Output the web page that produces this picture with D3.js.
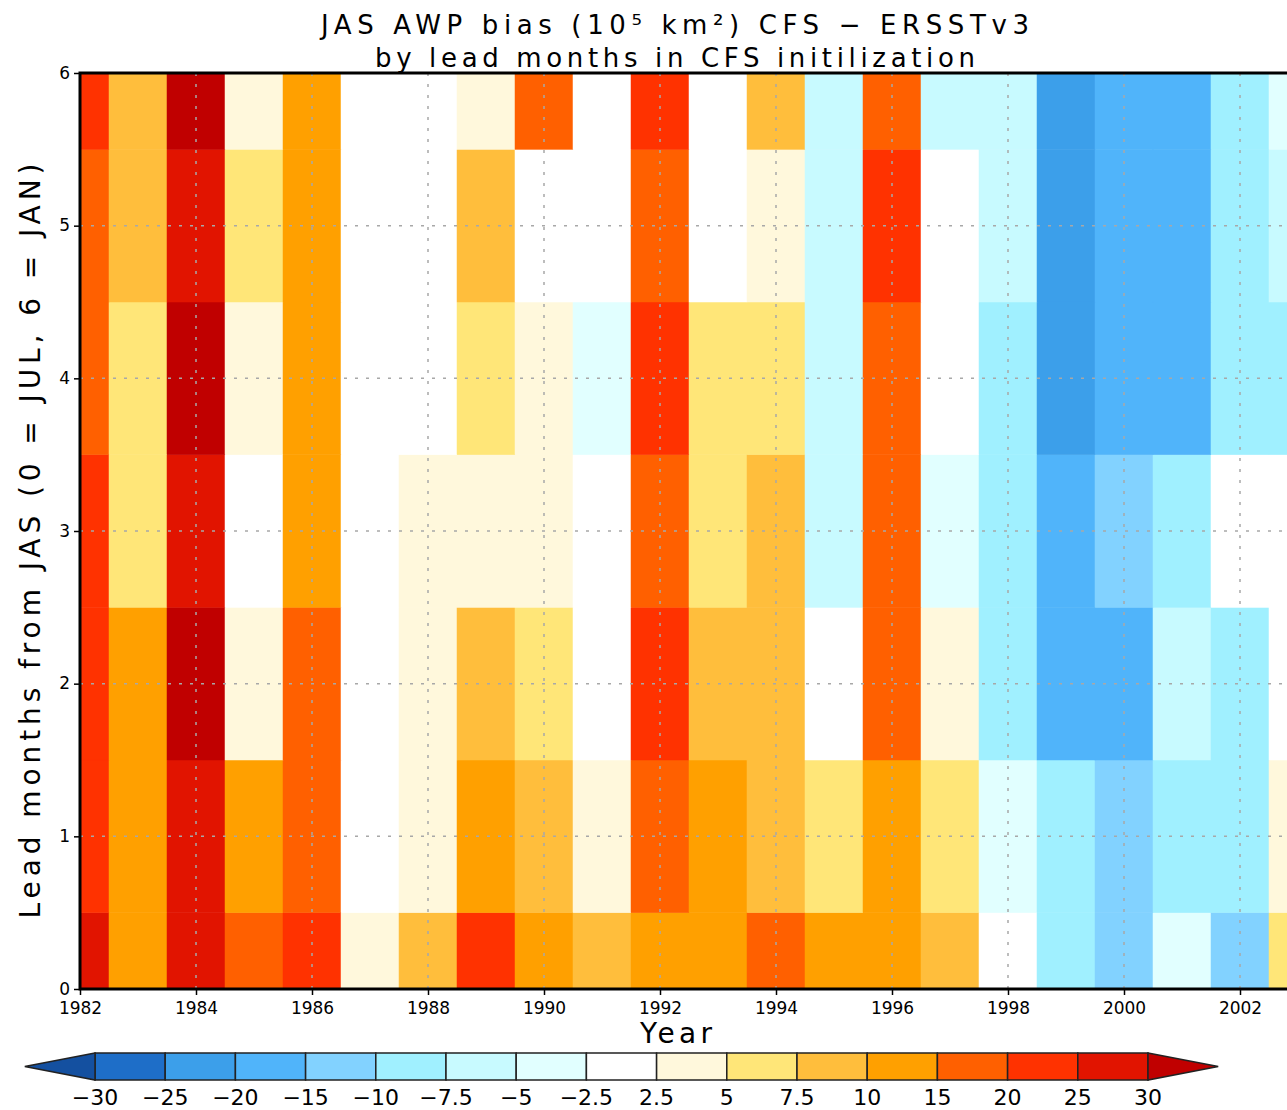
<!DOCTYPE html>
<html>
<head>
<meta charset="utf-8">
<script src="https://cdn.jsdelivr.net/npm/d3@7"></script>
<style>
  html, body { margin: 0; padding: 0; background: #fff; }
  svg { display: block; }
  text { font-family: "DejaVu Sans", "Liberation Sans", sans-serif; fill: #000; }
</style>
</head>
<body>
<svg id="chart" width="1287" height="1110"></svg>
<script>
// ---- data (years x lead months) ----
const years = d3.range(1982, 2004);
const leadMonths = [0, 1, 2, 3, 4, 5, 6];
const lead0 = [27, 12, 27, 17, 22, 3.5, 8.5, 22, 12, 8.5, 12, 12, 17, 12, 12, 8.5, 0, -8.7, -12, -3.5, -12, 6];
const lead1 = [22, 12, 27, 12, 17, 0, 3.5, 12, 8.5, 3.5, 17, 12, 8.5, 6, 12, 6, -3.5, -8.7, -12, -8.7, -8.7, 3.5];
const lead2 = [22, 12, 32, 3.5, 17, 0, 3.5, 8.5, 6, 0, 22, 8.5, 8.5, 0, 17, 3.5, -8.7, -17, -17, -6, -8.7, 0];
const lead3 = [22, 6, 27, 0, 12, 0, 3.5, 3.5, 3.5, 0, 17, 6, 8.5, -6, 17, -3.5, -8.7, -17, -12, -8.7, 0, 0];
const lead4 = [17, 6, 32, 3.5, 12, 0, 0, 6, 3.5, -3.5, 22, 6, 6, -6, 17, 0, -8.7, -22, -17, -17, -8.7, -8.7];
const lead5 = [17, 8.5, 27, 6, 12, 0, 0, 8.5, 0, 0, 17, 0, 3.5, -6, 22, 0, -6, -22, -17, -17, -8.7, -6];
const lead6 = [22, 8.5, 32, 3.5, 12, 0, 0, 3.5, 17, 0, 22, 0, 8.5, -6, 17, -6, -6, -22, -17, -17, -8.7, -3.5];
const leadRows = [lead0, lead1, lead2, lead3, lead4, lead5, lead6];

const levels = [-30, -25, -20, -15, -10, -7.5, -5, -2.5, 2.5, 5, 7.5, 10, 15, 20, 25, 30];
const levelLabels = ["−30", "−25", "−20", "−15", "−10", "−7.5", "−5", "−2.5", "2.5", "5", "7.5", "10", "15", "20", "25", "30"];
const colors = ["#1450a0", "#1e6ec8", "#3c9fea", "#50b4fa", "#82d2ff", "#a0f0ff", "#c8faff", "#e1ffff",
                "#ffffff", "#fff8dc", "#ffe678", "#ffbe3c", "#ffa000", "#ff6000", "#ff3200", "#e11400", "#c00000"];
const xTicks = d3.range(1982, 2004, 2);
const yTicks = [0, 1, 2, 3, 4, 5, 6];

(function () {
  const svg = d3.select("#chart");
  const pLeft = 80, pTop = 73, pBottom = 989;
  const x = d3.scaleLinear().domain([1982, 2004]).range([pLeft, pLeft + 22 * 58]);
  const y = d3.scaleLinear().domain([0, 6]).range([pBottom, pTop]);
  const color = d3.scaleThreshold().domain(levels).range(colors);

  const cells = [];
  leadRows.forEach((row, li) => row.forEach((v, yi) => cells.push({year: years[yi], lead: leadMonths[li], v})));

  svg.append("clipPath").attr("id", "plotclip")
    .append("rect").attr("x", x(1982)).attr("y", y(6)).attr("width", x(2004) - x(1982)).attr("height", y(0) - y(6));

  const plot = svg.append("g").attr("clip-path", "url(#plotclip)");
  plot.selectAll("rect.cell").data(cells).join("rect")
    .attr("class", "cell")
    .attr("x", d => x(Math.max(1982, d.year - 0.5)))
    .attr("width", d => x(d.year + 0.5) - x(Math.max(1982, d.year - 0.5)))
    .attr("y", d => y(Math.min(6, d.lead + 0.5)))
    .attr("height", d => y(Math.max(0, d.lead - 0.5)) - y(Math.min(6, d.lead + 0.5)))
    .attr("fill", d => color(d.v))
    .attr("stroke", d => color(d.v)).attr("stroke-width", 0.5);

  plot.selectAll("line.vg").data(xTicks.filter(t => t > 1982)).join("line")
    .attr("class", "vg")
    .attr("x1", d => x(d)).attr("x2", d => x(d)).attr("y1", y(0)).attr("y2", y(6))
    .attr("stroke", "#a8a8a8").attr("stroke-width", 1.5).attr("stroke-dasharray", "3,8");
  plot.selectAll("line.hg").data(yTicks.filter(t => t > 0 && t < 6)).join("line")
    .attr("class", "hg")
    .attr("x1", x(1982)).attr("x2", x(2004)).attr("y1", d => y(d)).attr("y2", d => y(d))
    .attr("stroke", "#a8a8a8").attr("stroke-width", 1.5).attr("stroke-dasharray", "3,8");

  const xAxis = d3.axisBottom(x).tickValues(xTicks).tickFormat(d3.format("d")).tickSize(6).tickPadding(7);
  const yAxis = d3.axisLeft(y).tickValues(yTicks).tickFormat(d3.format("d")).tickSize(6).tickPadding(4);
  const gx = svg.append("g").attr("transform", `translate(0,${pBottom})`).call(xAxis);
  const gy = svg.append("g").attr("transform", `translate(${pLeft},0)`).call(yAxis);
  [gx, gy].forEach(g => {
    g.select(".domain").remove();
    g.selectAll(".tick line").attr("stroke", "#000").attr("stroke-width", 1.5);
    g.selectAll(".tick text").attr("font-size", 17).attr("fill", "#000");
  });
  gy.selectAll(".tick text").attr("dy", "0.3em");

  svg.append("path")
    .attr("d", `M${x(2004)},${y(6)}H${x(1982)}V${y(0)}H${x(2004)}`)
    .attr("fill", "none").attr("stroke", "#000").attr("stroke-width", 3);

  svg.append("text").attr("x", 675).attr("y", 34).attr("text-anchor", "middle")
    .attr("font-size", 26).attr("textLength", 708).attr("lengthAdjust", "spacing")
    .text("JAS AWP bias (10⁵ km²) CFS − ERSSTv3");
  svg.append("text").attr("x", 675).attr("y", 67).attr("text-anchor", "middle")
    .attr("font-size", 26).attr("textLength", 600).attr("lengthAdjust", "spacing")
    .text("by lead months in CFS initilization");
  svg.append("text").attr("transform", `translate(40,${(y(0) + y(6)) / 2 + 10}) rotate(-90)`)
    .attr("text-anchor", "middle").attr("font-size", 28).attr("textLength", 755).attr("lengthAdjust", "spacing")
    .text("Lead months from JAS (0 = JUL, 6 = JAN)");
  svg.append("text").attr("x", 676).attr("y", 1043).attr("text-anchor", "middle")
    .attr("font-size", 28).attr("textLength", 72).attr("lengthAdjust", "spacing").text("Year");

  const cb = d3.scaleLinear().domain([0, levels.length - 1]).range([95, 1148]);
  const cbTop = 1053, cbBot = 1080, cbMid = (cbTop + cbBot) / 2;
  const cbg = svg.append("g");
  cbg.selectAll("rect").data(d3.range(levels.length - 1)).join("rect")
    .attr("x", i => cb(i)).attr("width", i => cb(i + 1) - cb(i))
    .attr("y", cbTop).attr("height", cbBot - cbTop)
    .attr("fill", i => colors[i + 1]).attr("stroke", "#222").attr("stroke-width", 1.5);
  const step = cb(1) - cb(0);
  cbg.append("path").attr("d", `M${cb(0)},${cbTop}L${cb(0) - step},${cbMid}L${cb(0)},${cbBot}Z`)
    .attr("fill", colors[0]).attr("stroke", "#222").attr("stroke-width", 1.5);
  cbg.append("path").attr("d", `M${cb(levels.length - 1)},${cbTop}L${cb(levels.length - 1) + step},${cbMid}L${cb(levels.length - 1)},${cbBot}Z`)
    .attr("fill", colors[colors.length - 1]).attr("stroke", "#222").attr("stroke-width", 1.5);
  cbg.selectAll("text").data(levelLabels).join("text")
    .attr("x", (d, i) => cb(i)).attr("y", 1105).attr("text-anchor", "middle")
    .attr("font-size", 22).text(d => d);
})();
</script>
</body>
</html>
